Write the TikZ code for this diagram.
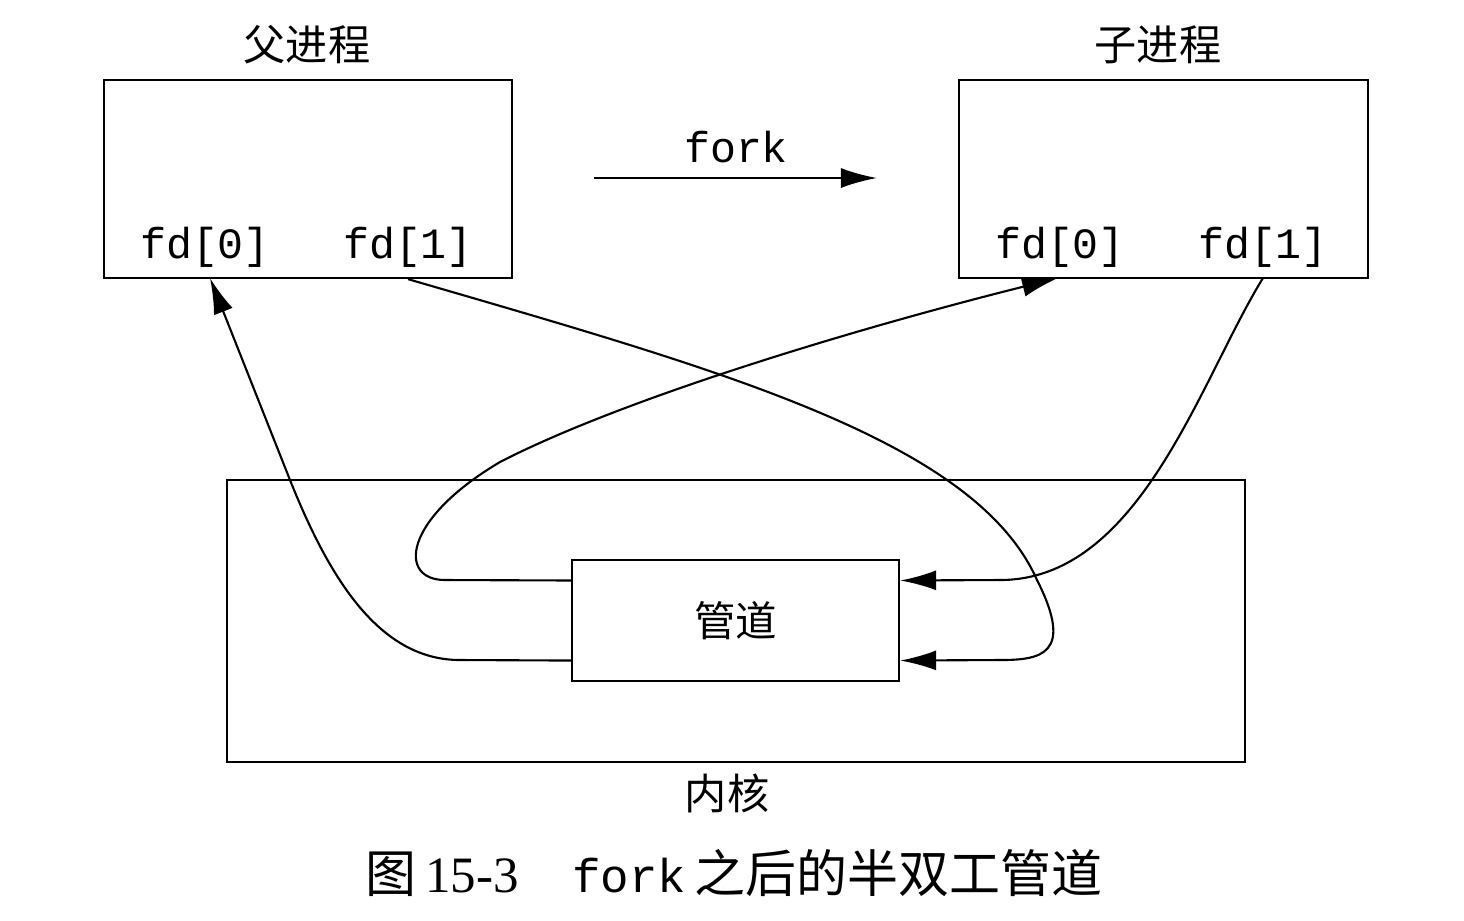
\documentclass[tikz,border=0pt]{standalone}
\usepackage{fontspec}
\setmainfont{Liberation Serif}
\setmonofont{Liberation Mono}
\newfontfamily\cjk{Noto Sans CJK SC}
\usetikzlibrary{arrows.meta}

\tikzset{
  procbox/.style={draw, line width=0.6pt, minimum width=4.08cm, minimum height=1.98cm},
  fdlab/.style={font=\fontsize{12.3}{14}\selectfont\ttfamily, inner sep=0pt},
  cjklab/.style={font=\fontsize{12}{14}\selectfont\cjk, inner sep=0pt},
  flow/.style={line width=0.6pt, -{Latex[length=3.6mm,width=2mm]}},
}

\begin{document}
\begin{tikzpicture}[x=0.01cm, y=-0.01cm]
            \useasboundingbox (0,0) rectangle (1464,920);
            % processes
            \node[procbox] (parent) at (308,179) {};
            \node[procbox] (child) at (1163.5,179) {};
            \node[cjklab] (parentlab) at (307,45) {父进程};
            \node[cjklab] (childlab) at (1158,45) {子进程};
            \node[fdlab] (pfd0) at (205,247) {fd[0]};
            \node[fdlab] (pfd1) at (408,247) {fd[1]};
            \node[fdlab] (cfd0) at (1060,247) {fd[0]};
            \node[fdlab] (cfd1) at (1263,247) {fd[1]};
            % kernel and pipe
            \node[draw, line width=0.6pt, minimum width=10.18cm, minimum height=2.82cm] (kernel) at (736,621) {};
            \node[cjklab] (kernellab) at (727,793) {内核};
            \node[draw, line width=0.6pt, minimum width=3.27cm, minimum height=1.21cm, cjklab, font=\fontsize{11.8}{14}\selectfont\cjk] (pipe) at (735.5,620.5) {管道};
            % fork
            \coordinate (forkA) at (594,178);
            \coordinate (forkB) at (877,178);
            \node[fdlab] (forklab) at (736,147) {fork};
            \draw[flow] (forkA) -- (forkB);
            % ends
            \coordinate (p0) at (210,278);
            \coordinate (p1) at (pfd1 |- parent.south);
            \coordinate (c0) at (1058,278);
            \coordinate (c1) at (1263,278);
            \coordinate (pl1) at ([yshift=4mm]pipe.west);
            \coordinate (pl2) at ([yshift=-4mm]pipe.west);
            \coordinate (pr1) at ([yshift=4mm]pipe.east);
            \coordinate (pr2) at ([yshift=-4mm]pipe.east);
            \draw[flow] (pl2) -- (460,660) .. controls (380,660) and (330,580) .. (290,480) -- (p0);
            \draw[flow] (p1) .. controls (720,370) and (975,440) .. (1037,580) .. controls (1075,655) and (1040,660) .. (1000,660) -- (pr2);
            \draw[flow] (pl1) -- (445,580) .. controls (398,580) and (402,520) .. (500,462) .. controls (620,400) and (850,330) .. (c0);
            \draw[flow] (c1) .. controls (1200,380) and (1140,580) .. (1000,580) -- (pr1);
            % caption
            \node[anchor=west, inner sep=0pt] (caption) at (365,873) {\fontsize{14.5}{16}\selectfont{\cjk 图}\,15-3\hspace{1.05em}{\fontsize{13.5}{16}\selectfont\ttfamily fork}\,{\cjk 之后的半双工管道}};
        \end{tikzpicture}
\end{document}
